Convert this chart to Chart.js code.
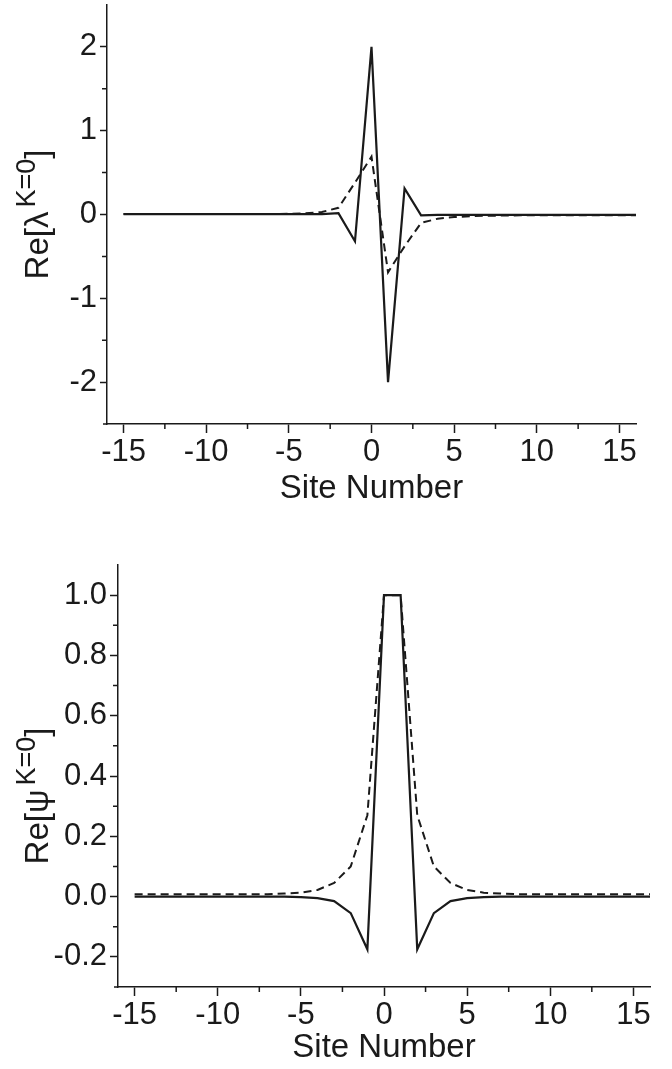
<!DOCTYPE html>
<html>
<head>
<meta charset="utf-8">
<title>Re[lambda] and Re[psi] vs site number</title>
<script src="https://cdn.jsdelivr.net/npm/chart.js@4.4.0/dist/chart.umd.min.js"></script>
<style>
  body { margin: 0; background: #fff; }
  .panel { position: absolute; left: 0; width: 672px; }
  #panelTop { top: 0; }
  #panelBottom { top: 520px; }
</style>
</head>
<body>
<div class="panel" id="panelTop"><canvas id="lambdaChart" width="672" height="520"></canvas></div>
<div class="panel" id="panelBottom"><canvas id="psiChart" width="672" height="549"></canvas></div>
<script>
const sites = [-15, -14, -13, -12, -11, -10, -9, -8, -7, -6, -5, -4, -3, -2, -1, 0, 1, 2, 3, 4, 5, 6, 7, 8, 9, 10, 11, 12, 13, 14, 15, 16];

// upper panel, Re[lambda]
const lambdaSolid = [0.005, 0.005, 0.005, 0.005, 0.005, 0.005, 0.005, 0.005, 0.005, 0.005, 0.005, 0.005, 0.005,
    0.015, -0.32, 2.0, -2.0, 0.31, -0.01,
    -0.005, -0.005, -0.005, -0.005, -0.005, -0.005, -0.005, -0.005, -0.005, -0.005, -0.005, -0.005, -0.005];
const lambdaDashed = [0.005, 0.005, 0.005, 0.005, 0.005, 0.005, 0.005, 0.005, 0.005, 0.005,
    0.008, 0.015, 0.03, 0.08, 0.38, 0.69, -0.69, -0.38, -0.1, -0.05, -0.03, -0.02,
    -0.015, -0.012, -0.01, -0.01, -0.01, -0.01, -0.01, -0.01, -0.01, -0.01];

// lower panel, Re[psi]
const psiSolid = [0, 0, 0, 0, 0, 0, 0, 0, 0, 0,
    -0.002, -0.005, -0.015, -0.055, -0.175, 1.0, 1.0, -0.175, -0.055, -0.015, -0.005, -0.002,
    0, 0, 0, 0, 0, 0, 0, 0, 0, 0];
const psiDashed = [0.008, 0.008, 0.008, 0.008, 0.008, 0.008, 0.008, 0.008, 0.008,
    0.01, 0.013, 0.022, 0.045, 0.1, 0.27, 1.0, 1.0, 0.27, 0.1, 0.045, 0.022, 0.013, 0.01,
    0.008, 0.008, 0.008, 0.008, 0.008, 0.008, 0.008, 0.008, 0.008];

const siteTicks = [-15, -10, -5, 0, 5, 10, 15];
const siteTickLabels = ['-15', '-10', '-5', '0', '5', '10', '15'];
const siteMinor = [-12.5, -7.5, -2.5, 2.5, 7.5, 12.5];

const lambdaTicks = [-2, -1, 0, 1, 2];
const lambdaTickLabels = ['-2', '-1', '0', '1', '2'];
const lambdaMinor = [-1.5, -0.5, 0.5, 1.5];

const psiTicks = [-0.2, 0, 0.2, 0.4, 0.6, 0.8, 1.0];
const psiTickLabels = ['-0.2', '0.0', '0.2', '0.4', '0.6', '0.8', '1.0'];
const psiMinor = [-0.1, 0.1, 0.3, 0.5, 0.7, 0.9];

const ink = '#1a1a1a';
const family = '"Liberation Sans", Arial, Helvetica, sans-serif';

// short unlabeled ticks between the labeled ones, plus the little x-axis overhang
const minorTicks = {
    id: 'minorTicks',
    afterDraw(chart, args, opts) {
        const {ctx, chartArea, scales} = chart;
        ctx.save();
        ctx.strokeStyle = ink;
        ctx.lineWidth = 1.5;
        ctx.beginPath();
        opts.x.forEach(v => {
            const px = scales.x.getPixelForValue(v);
            ctx.moveTo(px, chartArea.bottom);
            ctx.lineTo(px, chartArea.bottom + 5);
        });
        opts.y.forEach(v => {
            const py = scales.y.getPixelForValue(v);
            ctx.moveTo(chartArea.left, py);
            ctx.lineTo(chartArea.left - 5, py);
        });
        ctx.moveTo(chartArea.left - 4, chartArea.bottom);
        ctx.lineTo(chartArea.left, chartArea.bottom);
        ctx.stroke();
        ctx.restore();
    }
};

// rotated y title with a raised K=0, centred on the axis
const yTitle = {
    id: 'yTitle',
    afterDraw(chart, args, opts) {
        const {ctx, chartArea} = chart;
        ctx.save();
        let total = 0;
        opts.parts.forEach(part => {
            ctx.font = `${part.size}px ${family}`;
            total += ctx.measureText(part.text).width + (part.gap || 0);
        });
        ctx.translate(opts.x, (chartArea.top + chartArea.bottom) / 2 + total / 2 + (opts.shift || 0));
        ctx.rotate(-Math.PI / 2);
        ctx.fillStyle = ink;
        ctx.textBaseline = 'alphabetic';
        let cx = 0;
        opts.parts.forEach(part => {
            ctx.font = `${part.size}px ${family}`;
            ctx.fillText(part.text, cx, -(part.rise || 0));
            cx += ctx.measureText(part.text).width + (part.gap || 0);
        });
        ctx.restore();
    }
};

function makeChart(canvas, cfg) {
    const H = canvas.height;
    return new Chart(canvas, {
        type: 'line',
        data: {
            datasets: [
                {
                    data: sites.map((s, i) => ({x: s, y: cfg.solid[i]})),
                    borderColor: ink,
                    borderWidth: 2.2,
                    pointRadius: 0,
                    tension: 0
                },
                {
                    data: sites.map((s, i) => ({x: s, y: cfg.dashed[i]})),
                    borderColor: ink,
                    borderWidth: 2,
                    borderDash: [8, 5],
                    pointRadius: 0,
                    tension: 0
                }
            ]
        },
        options: {
            responsive: false,
            animation: false,
            layout: {
                padding: {top: cfg.top, right: 672 - cfg.right, left: 0, bottom: 0}
            },
            plugins: {
                legend: {display: false},
                tooltip: {enabled: false},
                minorTicks: {x: siteMinor, y: cfg.minor},
                yTitle: cfg.title
            },
            scales: {
                x: {
                    type: 'linear',
                    min: -16,
                    max: 16,
                    afterBuildTicks: s => { s.ticks = siteTicks.map(v => ({value: v})); },
                    afterFit: s => {
                        s.height = H - cfg.bottom;
                        s.paddingLeft = 0;
                        s.paddingRight = 0;
                    },
                    border: {color: ink, width: 1.5},
                    grid: {drawOnChartArea: false, tickLength: 9, tickColor: ink, tickWidth: 1.5},
                    ticks: {
                        color: ink,
                        font: {family: family, size: 31},
                        padding: 1,
                        maxRotation: 0,
                        autoSkip: false,
                        callback: (v, i) => siteTickLabels[i]
                    },
                    title: {
                        display: true,
                        text: 'Site Number',
                        color: ink,
                        font: {family: family, size: 33},
                        padding: {top: 0, bottom: cfg.titlePad}
                    }
                },
                y: {
                    min: cfg.yMin,
                    max: cfg.yMax,
                    afterBuildTicks: s => { s.ticks = cfg.ticks.map(v => ({value: v})); },
                    afterFit: s => {
                        s.width = cfg.left;
                        s.paddingTop = 0;
                        s.paddingBottom = 0;
                    },
                    border: {color: ink, width: 1.5},
                    grid: {drawOnChartArea: false, tickLength: cfg.tickLen, tickColor: ink, tickWidth: 1.5},
                    ticks: {
                        color: ink,
                        font: {family: family, size: 31},
                        padding: 3,
                        autoSkip: false,
                        callback: (v, i) => cfg.labels[i]
                    }
                }
            }
        },
        plugins: [minorTicks, yTitle]
    });
}

makeChart(document.getElementById('lambdaChart'), {
    solid: lambdaSolid,
    dashed: lambdaDashed,
    ticks: lambdaTicks,
    labels: lambdaTickLabels,
    minor: lambdaMinor,
    yMin: -2.5,
    yMax: 2.5,
    left: 107,
    right: 636,
    top: 5,
    bottom: 424,
    tickLen: 7,
    titlePad: 11,
    title: {
        x: 48,
        shift: 0,
        parts: [
            {text: 'Re[λ', size: 33, gap: 4},
            {text: 'K=0', size: 27, rise: 13},
            {text: ']', size: 33}
        ]
    }
});

makeChart(document.getElementById('psiChart'), {
    solid: psiSolid,
    dashed: psiDashed,
    ticks: psiTicks,
    labels: psiTickLabels,
    minor: psiMinor,
    yMin: -0.3,
    yMax: 1.1,
    left: 118,
    right: 650,
    top: 45,
    bottom: 467,
    tickLen: 8,
    titlePad: 1,
    title: {
        x: 48,
        shift: 20,
        parts: [
            {text: 'Re[ψ', size: 33, gap: 4},
            {text: 'K=0', size: 27, rise: 13},
            {text: ']', size: 33}
        ]
    }
});
</script>
</body>
</html>
